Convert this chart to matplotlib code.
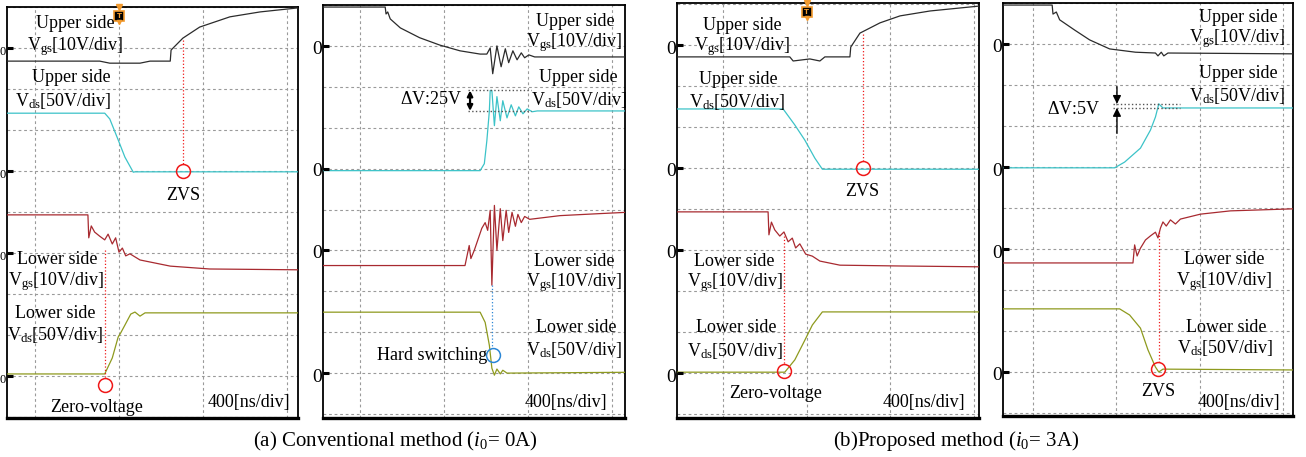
import matplotlib
matplotlib.use("Agg")
import matplotlib.pyplot as plt

plt.rcParams['font.family'] = ['Liberation Serif', 'DejaVu Serif']
plt.rcParams['mathtext.fontset'] = 'custom'
plt.rcParams['mathtext.rm'] = 'Liberation Serif'
plt.rcParams['mathtext.it'] = 'Liberation Serif:italic'

# Horizontal axis: time in divisions (400 ns/div); vertical axis: screen divisions.
# Channel zero levels on screen: upper Vgs = 9, upper Vds = 6, lower Vgs = 4, lower Vds = 1.
zero_levels = [9, 6, 4, 1]

# ---- (a) conventional, lower-side turn-off / upper-side turn-on ----
a1_ugs_t = [-0.34, 0.77, 0.89, 1.25, 1.37, 1.61, 1.62, 1.76, 1.96, 2.32, 2.68, 3.14]
a1_ugs_v = [8.68, 8.68, 8.63, 8.63, 8.68, 8.68, 8.95, 9.24, 9.51, 9.76, 9.88, 9.98]
a1_uds_t = [-0.34, 0.83, 0.89, 0.99, 1.07, 1.17, 1.19, 3.14]
a1_uds_v = [7.41, 7.41, 7.27, 6.76, 6.34, 5.97, 5.98, 5.98]
a1_lgs_t = [-0.34, 0.63, 0.64, 0.67, 0.71, 0.77, 0.83, 0.87, 0.92, 0.96, 1.00, 1.04,
            1.08, 1.13, 1.25, 1.37, 1.61, 2.08, 3.14]
a1_lgs_v = [4.93, 4.93, 4.37, 4.66, 4.51, 4.41, 4.32, 4.46, 4.22, 4.37, 4.02, 4.12,
            3.93, 3.98, 3.83, 3.78, 3.68, 3.61, 3.59]
a1_lds_t = [-0.34, 0.83, 0.92, 0.99, 1.02, 1.07, 1.14, 1.19, 1.25, 1.31, 3.14]
a1_lds_v = [1.05, 1.05, 1.44, 1.95, 2.05, 2.24, 2.51, 2.56, 2.46, 2.54, 2.54]

# ---- (a) conventional, upper-side turn-off / lower-side hard turn-on ----
a2_ugs_t = [-0.45, 0.30, 0.31, 0.33, 0.36, 0.48, 0.71, 0.95, 1.19, 1.43, 1.51, 1.55,
            1.58, 1.63, 1.68, 1.73, 1.77, 1.82, 1.87, 1.92, 1.96, 2.01, 2.08, 3.16]
a2_ugs_v = [9.95, 9.95, 9.78, 9.83, 9.66, 9.44, 9.20, 9.02, 8.88, 8.80, 8.80, 8.95,
            8.32, 9.00, 8.49, 8.93, 8.59, 8.88, 8.66, 8.83, 8.71, 8.78, 8.73, 8.73]
a2_uds_t = [-0.45, 1.43, 1.48, 1.51, 1.54, 1.55, 1.57, 1.60, 1.63, 1.67, 1.70, 1.75,
            1.80, 1.85, 1.89, 1.94, 1.99, 2.05, 2.11, 3.16]
a2_uds_v = [5.95, 5.95, 6.12, 6.68, 7.41, 7.91, 7.91, 7.05, 7.76, 7.17, 7.66, 7.24,
            7.56, 7.29, 7.51, 7.34, 7.46, 7.39, 7.41, 7.41]
a2_lgs_t = [-0.45, 1.25, 1.30, 1.32, 1.36, 1.40, 1.45, 1.49, 1.52, 1.55, 1.57, 1.60,
            1.63, 1.67, 1.70, 1.74, 1.77, 1.81, 1.85, 1.88, 1.92, 1.96, 2.02, 2.38,
            2.86, 3.16]
a2_lgs_v = [3.63, 3.63, 4.12, 3.80, 4.00, 4.24, 4.54, 4.68, 4.49, 4.98, 3.15, 5.10,
            4.00, 5.02, 4.24, 4.98, 4.44, 4.93, 4.59, 4.88, 4.68, 4.83, 4.76, 4.85,
            4.90, 4.93]
a2_lds_t = [-0.45, 1.43, 1.49, 1.54, 1.57, 1.60, 1.63, 1.67, 1.70, 1.75, 3.16]
a2_lds_v = [2.49, 2.49, 2.24, 1.68, 1.12, 0.95, 1.10, 0.98, 1.07, 1.00, 1.02]

# ---- (b) proposed, lower-side turn-off / upper-side turn-on ----
b1_ugs_t = [-0.56, 0.80, 0.84, 1.04, 1.16, 1.22, 1.52, 1.53, 1.64, 1.88, 2.12, 2.48, 3.07]
b1_ugs_v = [8.71, 8.71, 8.61, 8.66, 8.61, 8.71, 8.71, 8.95, 9.29, 9.54, 9.71, 9.83, 9.95]
b1_uds_t = [-0.56, 0.72, 0.86, 0.98, 1.10, 1.19, 3.07]
b1_uds_v = [7.44, 7.44, 7.05, 6.68, 6.24, 5.97, 5.97]
b1_lgs_t = [-0.56, 0.54, 0.55, 0.58, 0.62, 0.68, 0.73, 0.78, 0.83, 0.87, 0.92, 0.99,
            1.07, 1.16, 1.40, 2.12, 3.07]
b1_lgs_v = [4.93, 4.93, 4.37, 4.68, 4.49, 4.34, 4.44, 4.20, 4.29, 4.05, 4.15, 3.90,
            3.85, 3.73, 3.63, 3.61, 3.59]
b1_lds_t = [-0.56, 0.74, 0.86, 0.98, 1.07, 1.19, 3.07]
b1_lds_v = [1.02, 1.02, 1.32, 1.80, 2.17, 2.49, 2.49]

# ---- (b) proposed, upper-side turn-off / lower-side turn-on ----
b2_ugs_t = [-0.37, 0.23, 0.24, 0.28, 0.32, 0.50, 0.68, 0.92, 1.23, 1.47, 1.50, 1.54,
            1.57, 1.62, 3.13]
b2_ugs_v = [9.95, 9.95, 9.73, 9.78, 9.59, 9.34, 9.10, 8.88, 8.80, 8.78, 8.71, 8.80,
            8.71, 8.78, 8.76]
b2_uds_t = [-0.37, 0.98, 1.10, 1.29, 1.41, 1.47, 1.51, 1.56, 3.13]
b2_uds_v = [5.98, 5.98, 6.12, 6.46, 6.90, 7.22, 7.54, 7.44, 7.44]
b2_lgs_t = [-0.37, 1.20, 1.22, 1.25, 1.29, 1.35, 1.41, 1.47, 1.50, 1.53, 1.56, 1.60,
            1.65, 1.71, 1.77, 2.01, 2.37, 3.13]
b2_lgs_v = [3.66, 3.66, 4.10, 3.83, 4.02, 4.22, 4.32, 4.41, 4.27, 4.51, 4.66, 4.56,
            4.71, 4.61, 4.73, 4.85, 4.93, 4.98]
b2_lds_t = [-0.37, 1.04, 1.16, 1.29, 1.38, 1.47, 1.51, 1.56, 3.13]
b2_lds_v = [2.54, 2.54, 2.39, 2.07, 1.54, 1.12, 1.00, 1.07, 1.05]

# Voltage spikes after the upper-side Vds rise, in volts (50 V/div)
overshoot_volts = [25, 5]
vds_scale = 50.0

W, H = 1306, 457
fig = plt.figure(figsize=(W / 100, H / 100), dpi=100)

C_UGS = '#2b2b2b'
C_UDS = '#3cc3c8'
C_LGS = '#a82a30'
C_LDS = '#8e9a1e'
C_MARK = '#f01818'
C_BLUE = '#2a86d6'


def px(x, y):
    return x / W, 1 - y / H


def ftext(x, y, s, ha='center', size=13, **kw):
    fx, fy = px(x, y)
    fig.text(fx, fy, s, ha=ha, va='center', fontsize=size, **kw)


def make_panel(left, right, top, bottom, gx0, gdx, gy0, gdy=41.0, zero_size=14):
    fl, fb = left / W, 1 - bottom / H
    ax = fig.add_axes([fl, fb, (right - left) / W, (bottom - top) / H])
    ax.set_xlim((left - gx0) / gdx, (right - gx0) / gdx)
    ax.set_ylim((gy0 - bottom) / gdy, (gy0 - top) / gdy)
    ax.set_xticks(range(0, 4))
    ax.set_yticks(range(0, 11))
    ax.tick_params(length=0, labelbottom=False, labelleft=False)
    ax.grid(True, color='#9a9a9a', lw=0.8, ls=(0, (2.5, 2.5)))
    ax.set_axisbelow(True)
    for s in ax.spines.values():
        s.set_linewidth(1.3)
        s.set_color('black')
    ax.spines['bottom'].set_linewidth(2.4)
    # channel zero markers on the left edge
    x0 = ax.get_xlim()[0]
    for lv in zero_levels:
        ax.plot([x0, x0 + 6 / gdx], [lv, lv], color='black', lw=2.2,
                solid_capstyle='butt', clip_on=False, zorder=5)
        ftext(left - 1, gy0 - lv * gdy + 4, '0', ha='right', size=zero_size)
    return ax


def traces(ax, data):
    for (t, v), c in zip(data, [C_UGS, C_UDS, C_LGS, C_LDS]):
        ax.plot(t, v, color=c, lw=0.9, zorder=3)


def trigger(ax, x):
    ax.plot([x], [1.0], transform=ax.get_xaxis_transform(), marker='v',
            color='#f29a2e', ms=5, clip_on=False, zorder=6)
    y_sq = ax.get_ylim()[1] - 9 / 41
    ax.plot([x], [y_sq], marker='s', ms=7.5, mfc='black', mec='#f29a2e',
            mew=1.2, clip_on=False, zorder=6)
    ax.text(x, y_sq, 'T', color='#f29a2e', fontsize=5, ha='center', va='center',
            fontweight='bold', zorder=7, family='DejaVu Sans')
    ax.plot([x], [y_sq - 6 / 41], marker='v', color='#f29a2e', ms=3, zorder=6)


def ring(ax, x, y, color):
    ax.plot([x], [y], marker='o', ms=10, mfc='none', mec=color, mew=1.1, zorder=6)


VGS = r'V$_{\rm gs}$[10V/div]'
VDS = r'V$_{\rm ds}$[50V/div]'

# ---------------- panel (a) left ----------------
ax1 = make_panel(7, 298, 7, 418, 35, 84, 417, zero_size=9)
traces(ax1, [(a1_ugs_t, a1_ugs_v), (a1_uds_t, a1_uds_v),
             (a1_lgs_t, a1_lgs_v), (a1_lds_t, a1_lds_v)])
trigger(ax1, 1.0)
ring(ax1, 1.762, zero_levels[1], C_MARK)
ax1.plot([1.762, 1.762], [9.2, zero_levels[1] + 0.17], color=C_MARK, lw=0.9, ls=':', zorder=4)
ring(ax1, 0.833, 0.78, C_MARK)
ax1.plot([0.833, 0.833], [4.07, 0.95], color=C_MARK, lw=0.9, ls=':', zorder=4)
ftext(75, 24, 'Upper side'); ftext(75, 47, VGS)
ftext(71, 78, 'Upper side'); ftext(63, 101, VDS)
ftext(57, 260, 'Lower side'); ftext(56, 282, VGS)
ftext(55, 313, 'Lower side'); ftext(55, 335, VDS)
ftext(183, 195, 'ZVS')
ftext(97, 408, 'Zero-voltage')
ftext(290, 402, '400[ns/div]', ha='right')

# ---------------- panel (a) right ----------------
ax2 = make_panel(323, 625, 5, 418, 360, 84, 414)
traces(ax2, [(a2_ugs_t, a2_ugs_v), (a2_uds_t, a2_uds_v),
             (a2_lgs_t, a2_lgs_v), (a2_lds_t, a2_lds_v)])
v_final = a2_uds_v[-1]
v_peak = v_final + overshoot_volts[0] / vds_scale
for lv in (v_peak, v_final):
    ax2.plot([1.29, 2.03], [lv, lv], color='#555555', lw=1.0, ls=':', zorder=4)
ax2.annotate('', xy=(1.31, v_peak), xytext=(1.31, v_final),
             arrowprops=dict(arrowstyle='<|-|>', color='black', lw=1.6,
                             mutation_scale=8, shrinkA=0, shrinkB=0), zorder=6)
ftext(462, 99, r'$\Delta$V:25V', ha='right')
ring(ax2, 1.583, 1.44, C_BLUE)
ax2.plot([1.571, 1.571], [3.15, 1.61], color=C_BLUE, lw=0.9, ls=':', zorder=4)
ftext(487, 355, 'Hard switching', ha='right')
ftext(615, 21, 'Upper side', ha='right'); ftext(622, 43, VGS, ha='right')
ftext(618, 78, 'Upper side', ha='right'); ftext(627, 100, VDS, ha='right')
ftext(615, 262, 'Lower side', ha='right'); ftext(622, 283, VGS, ha='right')
ftext(617, 328, 'Lower side', ha='right'); ftext(622, 350, VDS, ha='right')
ftext(607, 402, '400[ns/div]', ha='right')

# ---------------- panel (b) left ----------------
ax3 = make_panel(677, 979, 3, 418, 723, 83.5, 414)
traces(ax3, [(b1_ugs_t, b1_ugs_v), (b1_uds_t, b1_uds_v),
             (b1_lgs_t, b1_lgs_v), (b1_lds_t, b1_lds_v)])
trigger(ax3, 1.0)
ring(ax3, 1.677, zero_levels[1], C_MARK)
ax3.plot([1.677, 1.677], [9.27, zero_levels[1] + 0.17], color=C_MARK, lw=0.9, ls=':', zorder=4)
ring(ax3, 0.731, 1.05, C_MARK)
ax3.plot([0.731, 0.731], [4.34, 1.22], color=C_MARK, lw=0.9, ls=':', zorder=4)
ftext(742, 25, 'Upper side'); ftext(742, 47, VGS)
ftext(738, 79, 'Upper side'); ftext(737, 102, VDS)
ftext(734, 261, 'Lower side'); ftext(735, 283, VGS)
ftext(736, 328, 'Lower side'); ftext(735, 351, VDS)
ftext(862, 191, 'ZVS')
ftext(776, 393, 'Zero-voltage')
ftext(965, 403, '400[ns/div]', ha='right')

# ---------------- panel (b) right ----------------
ax4 = make_panel(1003, 1293, 3, 416, 1033, 83.3, 413)
traces(ax4, [(b2_ugs_t, b2_ugs_v), (b2_uds_t, b2_uds_v),
             (b2_lgs_t, b2_lgs_v), (b2_lds_t, b2_lds_v)])
v_final = b2_uds_v[-1]
v_peak = v_final + overshoot_volts[1] / vds_scale
for lv in (v_peak, v_final):
    ax4.plot([0.96, 1.77], [lv, lv], color='#555555', lw=1.0, ls=':', zorder=4)
ax4.annotate('', xy=(1.008, v_peak), xytext=(1.008, v_peak + 0.42),
             arrowprops=dict(arrowstyle='-|>', color='black', lw=1.0,
                             mutation_scale=12, shrinkA=0, shrinkB=0), zorder=6)
ax4.annotate('', xy=(1.008, v_final), xytext=(1.008, v_final - 0.62),
             arrowprops=dict(arrowstyle='-|>', color='black', lw=1.0,
                             mutation_scale=12, shrinkA=0, shrinkB=0), zorder=6)
ftext(1100, 110, r'$\Delta$V:5V', ha='right')
ring(ax4, 1.501, 1.07, C_MARK)
ax4.plot([1.513, 1.513], [4.41, 1.24], color=C_MARK, lw=0.9, ls=':', zorder=4)
ftext(1158, 391, 'ZVS')
ftext(1278, 17, 'Upper side', ha='right'); ftext(1285, 39, VGS, ha='right')
ftext(1278, 73, 'Upper side', ha='right'); ftext(1285, 96, VDS, ha='right')
ftext(1265, 259, 'Lower side', ha='right'); ftext(1272, 282, VGS, ha='right')
ftext(1267, 327, 'Lower side', ha='right'); ftext(1273, 348, VDS, ha='right')
ftext(1280, 403, '400[ns/div]', ha='right')

# ---------------- captions ----------------
ftext(395, 441, r'(a) Conventional method ($i_0$= 0A)', size=15)
ftext(956, 441, r'(b)Proposed method ($i_0$= 3A)', size=15)

fig.savefig('out.png', dpi=100)
